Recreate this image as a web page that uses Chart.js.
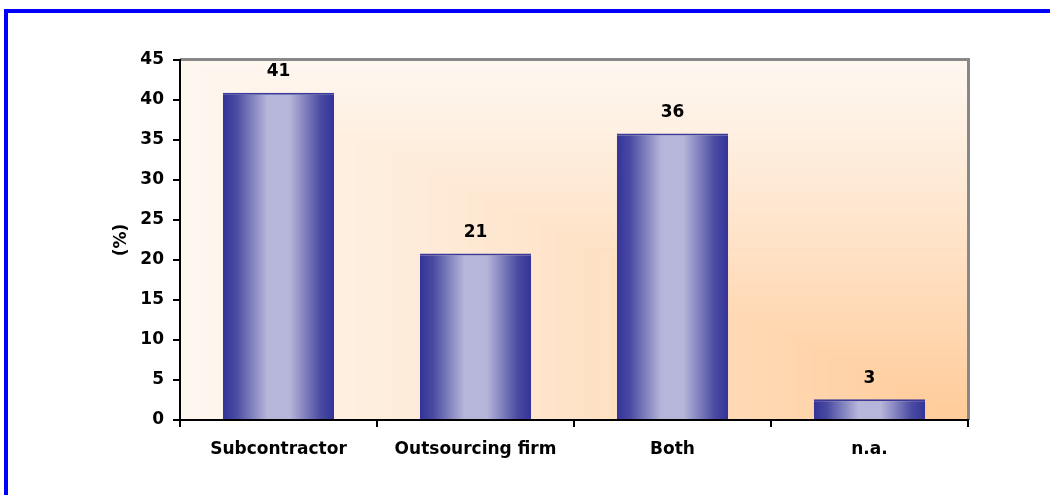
<!DOCTYPE html>
<html>
<head>
<meta charset="utf-8">
<script src="https://cdn.jsdelivr.net/npm/chart.js@4/dist/chart.umd.min.js"></script>
<style>
  html, body { margin: 0; padding: 0; background: #ffffff; }
  #wrap { position: relative; width: 1050px; height: 495px; overflow: hidden; }
  #frame { position: absolute; left: 4px; top: 9px; width: 1100px; height: 600px;
           border-top: 4px solid #0000ff; border-left: 4px solid #0000ff; box-sizing: border-box; pointer-events: none; }
  canvas { position: absolute; left: 0; top: 0; }
</style>
</head>
<body>
<div id="wrap">
  <canvas id="c" width="1050" height="495"></canvas>
  <div id="frame"></div>
</div>
<script>
const categories = ["Subcontractor", "Outsourcing firm", "Both", "n.a."];
const values = [40.9, 20.8, 35.8, 2.6];
const valueLabels = ["41", "21", "36", "3"];
const yTicks = [0, 5, 10, 15, 20, 25, 30, 35, 40, 45];

const FONT = "'DejaVu Sans', 'Liberation Sans', Arial, sans-serif";
const FSIZE = 17;
const BAR_PCT = 0.565;

function lerp(a, b, t) { return a + (b - a) * t; }

const bgPlugin = {
  id: 'bgPlugin',
  beforeDraw(chart) {
    const {ctx, chartArea: a} = chart;
    if (!a) return;
    const w = Math.round(a.right - a.left), h = Math.round(a.bottom - a.top);
    const off = document.createElement('canvas');
    off.width = w; off.height = h;
    const octx = off.getContext('2d');
    const img = octx.createImageData(w, h);
    const c0 = [254, 247, 240], c1 = [255, 203, 153];
    for (let y = 0; y < h; y++) {
      const yn = y / (h - 1);
      for (let x = 0; x < w; x++) {
        const xn = x / (w - 1);
        let t = Math.min(xn, yn);
        t = Math.pow(t, 1.1);
        const i = (y * w + x) * 4;
        img.data[i] = lerp(c0[0], c1[0], t);
        img.data[i + 1] = lerp(c0[1], c1[1], t);
        img.data[i + 2] = lerp(c0[2], c1[2], t);
        img.data[i + 3] = 255;
      }
    }
    octx.putImageData(img, 0, 0);
    ctx.drawImage(off, a.left, a.top);
    ctx.save();
    ctx.strokeStyle = '#888888';
    ctx.lineWidth = 3;
    ctx.beginPath();
    ctx.moveTo(a.left, a.top - 0.5);
    ctx.lineTo(a.right + 0.5, a.top - 0.5);
    ctx.lineTo(a.right + 0.5, a.bottom);
    ctx.stroke();
    ctx.restore();
  }
};

const labelPlugin = {
  id: 'labelPlugin',
  afterDatasetsDraw(chart) {
    const {ctx} = chart;
    const meta = chart.getDatasetMeta(0);
    ctx.save();
    ctx.font = "bold " + FSIZE + "px " + FONT;
    ctx.fillStyle = '#000000';
    ctx.textAlign = 'center';
    ctx.textBaseline = 'middle';
    meta.data.forEach((bar, i) => {
      ctx.fillText(valueLabels[i], bar.x, bar.y - 21);
    });
    ctx.restore();
  }
};

function barGradient(context) {
  const chart = context.chart;
  const xs = chart.scales && chart.scales.x;
  if (!chart.chartArea || !xs) return '#6666aa';
  const cx = xs.getPixelForValue(context.dataIndex);
  const slot = (xs.right - xs.left) / categories.length;
  const half = slot * BAR_PCT / 2;
  const g = chart.ctx.createLinearGradient(cx - half, 0, cx + half, 0);
  g.addColorStop(0, '#333399');
  g.addColorStop(0.12, '#4a4aa2');
  g.addColorStop(0.4, '#b6b6da');
  g.addColorStop(0.6, '#b6b6da');
  g.addColorStop(0.88, '#4a4aa2');
  g.addColorStop(1, '#333399');
  return g;
}

new Chart(document.getElementById('c'), {
  type: 'bar',
  data: {
    labels: categories,
    datasets: [{
      data: values,
      backgroundColor: barGradient,
      borderColor: '#3a3a9c',
      borderWidth: {top: 2, left: 0, right: 0, bottom: 0},
      borderSkipped: false,
      categoryPercentage: 1,
      barPercentage: BAR_PCT
    }]
  },
  options: {
    responsive: false,
    animation: false,
    devicePixelRatio: 1,
    layout: { padding: { left: 100, top: 60, right: 82, bottom: 20 } },
    plugins: { legend: { display: false }, tooltip: { enabled: false } },
    scales: {
      x: {
        afterFit(s) { s.height = 55; },
        grid: { display: true, drawOnChartArea: false, offset: true, tickLength: 7, color: '#000000', lineWidth: 2 },
        border: { display: true, color: '#000000', width: 2 },
        ticks: { color: '#000000', font: { family: FONT, size: FSIZE, weight: 'bold' }, padding: 12, maxRotation: 0 }
      },
      y: {
        min: 0, max: 45,
        afterFit(s) { s.width = 80; },
        afterBuildTicks(s) { s.ticks = yTicks.map(v => ({ value: v })); },
        grid: { display: true, drawOnChartArea: false, tickLength: 7, color: '#000000', lineWidth: 2 },
        border: { display: true, color: '#000000', width: 2 },
        ticks: { color: '#000000', font: { family: FONT, size: FSIZE, weight: 'bold' }, padding: 9 },
        title: { display: true, text: '(%)', color: '#000000', font: { family: FONT, size: FSIZE, weight: 'bold' }, padding: { top: 11, bottom: 0 } }
      }
    }
  },
  plugins: [bgPlugin, labelPlugin]
});
</script>
</body>
</html>
